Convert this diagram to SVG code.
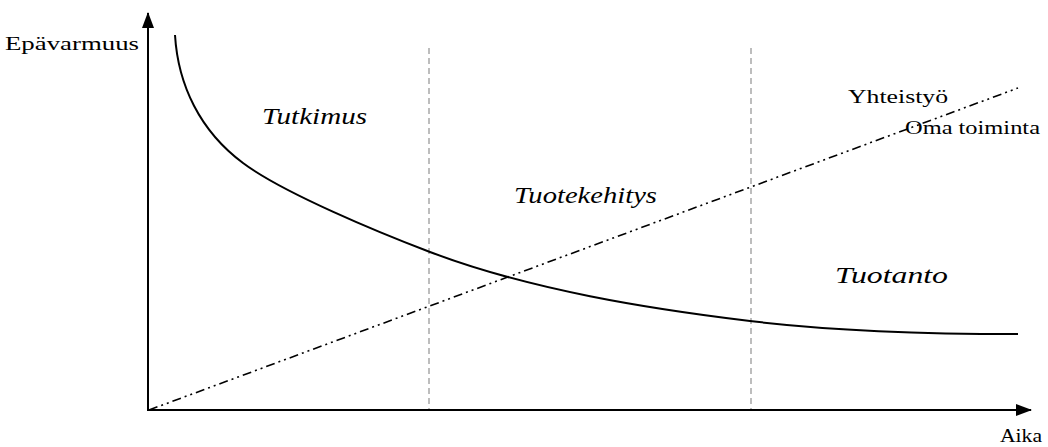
<svg xmlns="http://www.w3.org/2000/svg" width="1048" height="447" viewBox="0 0 1048 447">
<style>
.t{fill:#000;font-size:19px}
.i{fill:#000;font-size:23px;font-style:italic}
.axis{stroke:#000;stroke-width:2;fill:none}
.grid{stroke:#bdbdbd;stroke-width:2;stroke-dasharray:6 4;fill:none}
.curve{stroke:#000;stroke-width:2;fill:none}
.dd{stroke:#000;stroke-width:1.6;fill:none;stroke-dasharray:9 4 2 4 2 4}
</style>
<defs>
<marker id="ah" viewBox="0 0 16 12" refX="15" refY="6" markerWidth="16" markerHeight="12" markerUnits="userSpaceOnUse" orient="auto">
<path d="M0,0 L16,6 L0,12 Z" fill="#000"/>
</marker>
</defs>
<g id="connectors">
<line class="grid" x1="429" y1="48" x2="429" y2="410"/>
<line class="grid" x1="751" y1="48" x2="751" y2="410"/>
<path class="curve" d="M175,35 C178,85 200,131 243,163 C283,193 380,233 430,252 C530,290 650,309 750,321 C840,331.8 930,334 1018,334"/>
<line class="dd" x1="149" y1="410" x2="1018" y2="88"/>
<line class="axis" x1="148" y1="411" x2="148" y2="13" marker-end="url(#ah)"/>
<line class="axis" x1="147" y1="410" x2="1031" y2="410" marker-end="url(#ah)"/>
</g>
<g font-family="'Liberation Serif', 'Times New Roman', Times, serif">
<g id="label-y"><text class="t" x="5" y="50" textLength="134" lengthAdjust="spacingAndGlyphs">Epävarmuus</text></g>
<g id="label-x"><text class="t" x="1000" y="442" textLength="42" lengthAdjust="spacingAndGlyphs">Aika</text></g>
<g id="label-yhteistyo"><text class="t" x="848" y="103" textLength="100" lengthAdjust="spacingAndGlyphs">Yhteistyö</text></g>
<g id="label-oma"><text class="t" x="905" y="134" textLength="135" lengthAdjust="spacingAndGlyphs">Oma toiminta</text></g>
<g id="tutkimus"><text class="i" x="262" y="124" textLength="105" lengthAdjust="spacingAndGlyphs">Tutkimus</text></g>
<g id="tuotekehitys"><text class="i" x="514" y="203" textLength="143" lengthAdjust="spacingAndGlyphs">Tuotekehitys</text></g>
<g id="tuotanto"><text class="i" x="835" y="283" textLength="113" lengthAdjust="spacingAndGlyphs">Tuotanto</text></g>
</g>
</svg>
